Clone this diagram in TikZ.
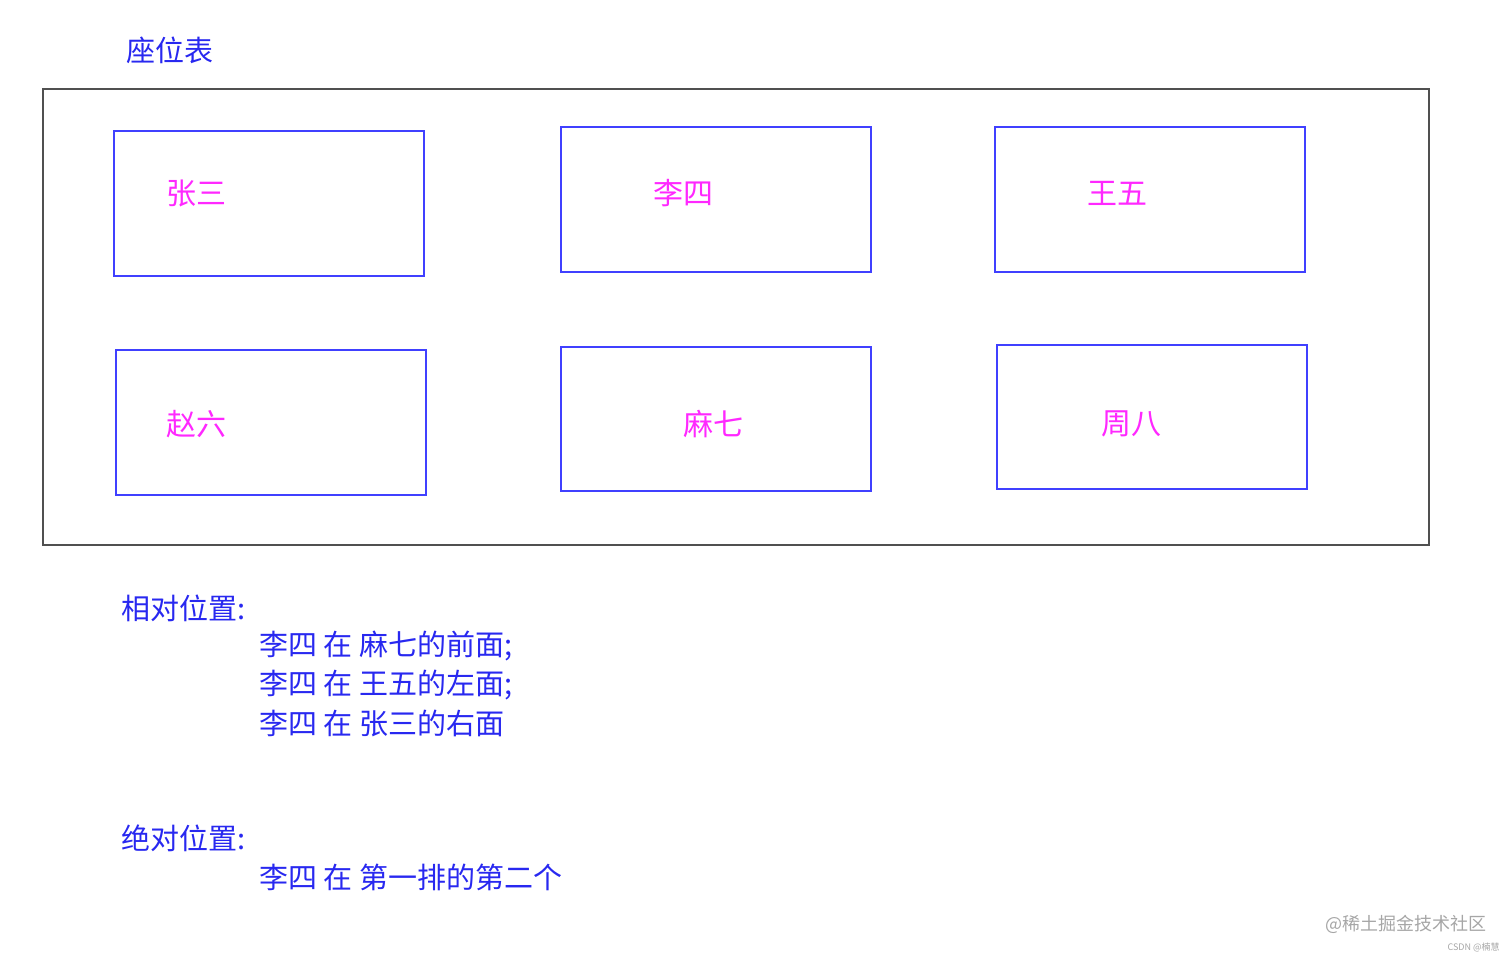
\documentclass[tikz,border=0pt]{standalone}
\usepackage{fontspec}
\setmainfont{Noto Sans CJK SC}
\usepackage{tikz}
\usetikzlibrary{positioning}

\definecolor{seatblue}{RGB}{64,64,255}
\definecolor{namepink}{RGB}{255,40,255}
\definecolor{noteblue}{RGB}{40,40,240}
\definecolor{framegray}{RGB}{80,80,80}

\tikzset{
	seat/.style={draw=seatblue, line width=1pt, minimum width=155pt, minimum height=72.5pt, inner sep=0pt},
	who/.style={text=namepink, font=\fontsize{15}{15}\selectfont, inner sep=0pt},
	note/.style={text=noteblue, font=\fontsize{14.5}{14.5}\selectfont, anchor=west, inner sep=0pt},
	wmark/.style={text=gray!70, inner sep=0pt, anchor=east}
}

\begin{document}
\begin{tikzpicture}[x=0.5pt, y=-0.5pt]
	\useasboundingbox (0,0) rectangle (1512,960);
	% seat table frame
	\node (title) [note, anchor=center] at (170,50) {座位表};
	\node (room) [draw=framegray, line width=1pt, minimum width=693pt, minimum height=228pt] at (736,317) {};
	% first row
	\node (s11) [seat] at (269,203.5) {};
	\node (s12) [seat] at (716,199.5) {};
	\node (s13) [seat] at (1150,199.5) {};
	\node (n11) [who] at (196,193) {张三};
	\node (n12) [who] at (683,193) {李四};
	\node (n13) [who] at (1117,193) {王五};
	% second row
	\node (s21) [seat] at (271,422.5) {};
	\node (s22) [seat, minimum height=72pt] at (716,419) {};
	\node (s23) [seat, minimum height=72pt] at (1152,417) {};
	\node (n21) [who] at (196,424) {赵六};
	\node (n22) [who] at (713,424) {麻七};
	\node (n23) [who] at (1131,424) {周八};
	% relative / absolute
	\node (rel) [note] at (121,608) {相对位置:};
	\node (rel1) [note] at (259,646) {李四 在 麻七的前面;};
	\node (rel2) [note] at (259,685) {李四 在 王五的左面;};
	\node (rel3) [note] at (259,723) {李四 在 张三的右面};
	\node (abs) [note] at (121,838) {绝对位置:};
	\node (abs1) [note] at (259,877) {李四 在 第一排的第二个};
	% watermark
	\node (wm1) [wmark, font=\fontsize{9}{9}\selectfont] at (1487,924) {@稀土掘金技术社区};
	\node (wm2) [wmark, font=\fontsize{4.5}{4.5}\selectfont] at (1500,947) {CSDN @楠慧};
\end{tikzpicture}
\end{document}
